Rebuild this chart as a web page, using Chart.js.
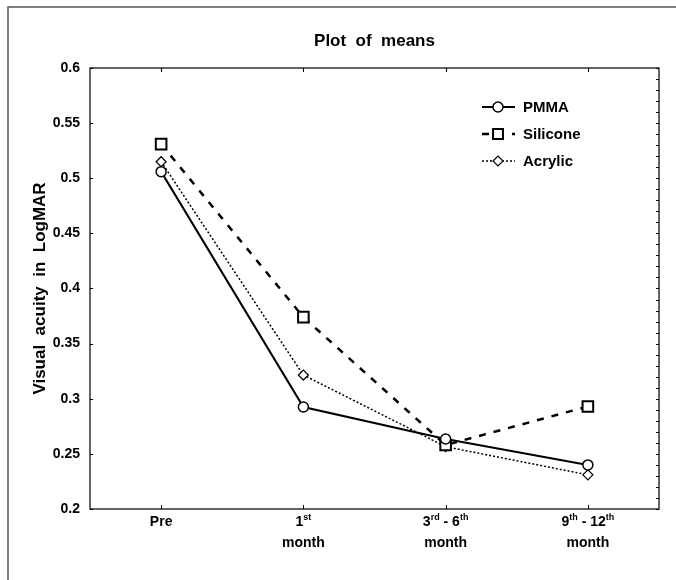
<!DOCTYPE html>
<html>
<head>
<meta charset="utf-8">
<script src="https://cdn.jsdelivr.net/npm/chart.js@4.4.1/dist/chart.umd.min.js"></script>
<style>
  html, body { margin: 0; padding: 0; background: #fff; }
  #wrap { width: 676px; height: 580px; }
</style>
</head>
<body>
<div id="wrap"><canvas id="lineChart"></canvas></div>
<script>
// data
var categories = [["Pre"], ["1^st", "month"], ["3^rd - 6^th", "month"], ["9^th - 12^th", "month"]];
var pmma = [0.506, 0.2925, 0.2635, 0.240];
var silicone = [0.531, 0.374, 0.258, 0.293];
var acrylic = [0.515, 0.3215, 0.2565, 0.231];
var yTickLabels = ["0.2", "0.25", "0.3", "0.35", "0.4", "0.45", "0.5", "0.55", "0.6"];
var seriesNames = ["PMMA", "Silicone", "Acrylic"];

var FONT = "'Liberation Sans', Arial, sans-serif";
Chart.defaults.font.family = FONT;
Chart.defaults.color = '#000';

// draws frame, ticks, x labels with superscripts, title and legend
var extras = {
  id: 'extras',
  afterDraw: function (chart) {
    var ctx = chart.ctx;
    var a = chart.chartArea;
    var xs = chart.scales.x, ys = chart.scales.y;
    ctx.save();

    // outer frame (left + top only)
    ctx.strokeStyle = '#555';
    ctx.lineWidth = 1.5;
    ctx.beginPath();
    ctx.moveTo(8, 580);
    ctx.lineTo(8, 7);
    ctx.lineTo(676, 7);
    ctx.stroke();

    // plot box
    ctx.strokeStyle = '#333';
    ctx.lineWidth = 1.5;
    ctx.strokeRect(a.left, a.top, a.right - a.left, a.bottom - a.top);

    // ticks
    ctx.lineWidth = 1;
    ctx.strokeStyle = '#000';
    ctx.beginPath();
    yTickLabels.forEach(function (t) {
      var y = Math.round(ys.getPixelForValue(parseFloat(t))) + 0.5;
      ctx.moveTo(a.left, y); ctx.lineTo(a.left + 3, y);
    });
    for (var v = 20; v <= 60; v++) {
      var y = Math.round(ys.getPixelForValue(v / 100)) + 0.5;
      ctx.moveTo(a.right, y); ctx.lineTo(a.right - 3, y);
    }
    categories.forEach(function (c, i) {
      var x = Math.round(xs.getPixelForTick(i)) + 0.5;
      ctx.moveTo(x, a.top); ctx.lineTo(x, a.top + 4);
      ctx.moveTo(x, a.bottom); ctx.lineTo(x, a.bottom - 4);
    });
    ctx.stroke();

    // x labels
    ctx.fillStyle = '#000';
    ctx.textBaseline = 'middle';
    ctx.textAlign = 'left';
    var big = 'bold 14px ' + FONT, small = 'bold 9px ' + FONT;
    categories.forEach(function (lines, i) {
      var cx = xs.getPixelForTick(i);
      lines.forEach(function (line, j) {
        var parts = line.split(/\^([a-z]+)/);
        var w = 0;
        parts.forEach(function (p, k) {
          ctx.font = k % 2 ? small : big;
          w += ctx.measureText(p).width;
        });
        var x = cx - w / 2;
        var y = 522 + j * 21;
        parts.forEach(function (p, k) {
          ctx.font = k % 2 ? small : big;
          ctx.fillText(p, x, k % 2 ? y - 4 : y);
          x += ctx.measureText(p).width;
        });
      });
    });

    // title
    ctx.font = 'bold 17px ' + FONT;
    ctx.textAlign = 'center';
    ctx.fillText('Plot  of  means', (a.left + a.right) / 2, 41);

    // legend
    ctx.font = 'bold 15px ' + FONT;
    ctx.textAlign = 'left';
    chart.data.datasets.forEach(function (ds, i) {
      var y = 107 + i * 27;
      ctx.strokeStyle = '#000';
      ctx.lineWidth = ds.borderWidth;
      ctx.setLineDash(ds.borderDash || []);
      ctx.beginPath();
      ctx.moveTo(482, y); ctx.lineTo(515, y);
      ctx.stroke();
      ctx.setLineDash([]);
      ctx.fillStyle = '#fff';
      ctx.lineWidth = ds.pointBorderWidth;
      Chart.helpers.drawPoint(ctx, {
        pointStyle: ds.pointStyle, radius: ds.legendRadius,
        borderWidth: ds.pointBorderWidth, rotation: 0
      }, 498, y);
      ctx.fillStyle = '#000';
      ctx.fillText(ds.label, 523, y + 1);
    });
    ctx.restore();
  }
};

new Chart(document.getElementById('lineChart'), {
  type: 'line',
  data: {
    labels: categories.map(function (c) { return c.join(' '); }),
    datasets: [{
      label: seriesNames[0],
      data: pmma,
      borderColor: '#000',
      borderWidth: 2,
      pointStyle: 'circle',
      pointRadius: 5,
      legendRadius: 5,
      pointBackgroundColor: '#fff',
      pointBorderColor: '#000',
      pointBorderWidth: 1.5,
      tension: 0
    }, {
      label: seriesNames[1],
      data: silicone,
      borderColor: '#000',
      borderWidth: 2.5,
      borderDash: [7, 8],
      pointStyle: 'rect',
      pointRadius: 7.5,
      legendRadius: 7,
      pointBackgroundColor: '#fff',
      pointBorderColor: '#000',
      pointBorderWidth: 2,
      tension: 0
    }, {
      label: seriesNames[2],
      data: acrylic,
      borderColor: '#000',
      borderWidth: 1.5,
      borderDash: [2, 2],
      pointStyle: 'rectRot',
      pointRadius: 5,
      legendRadius: 5,
      pointBackgroundColor: '#fff',
      pointBorderColor: '#000',
      pointBorderWidth: 1.2,
      tension: 0
    }]
  },
  options: {
    responsive: true,
    maintainAspectRatio: false,
    animation: false,
    layout: { padding: { left: 0, right: 17, top: 68, bottom: 0 } },
    plugins: { legend: { display: false }, tooltip: { enabled: false } },
    scales: {
      x: {
        offset: true,
        grid: { display: false },
        border: { display: false },
        ticks: { display: false },
        afterFit: function (s) { s.height = 71; }
      },
      y: {
        min: 0.2,
        max: 0.6,
        grid: { display: false, drawTicks: false },
        border: { display: false },
        afterBuildTicks: function (s) {
          s.ticks = yTickLabels.map(function (t) { return { value: parseFloat(t) }; });
        },
        ticks: {
          padding: 10,
          font: { size: 14, weight: 'bold' },
          callback: function (v, i) { return yTickLabels[i]; }
        },
        title: {
          display: true,
          text: 'Visual  acuity  in  LogMAR',
          font: { size: 17, weight: 'bold' },
          padding: { top: 30, bottom: 0 }
        },
        afterFit: function (s) { s.width = 90; }
      }
    }
  },
  plugins: [extras]
});
</script>
</body>
</html>
